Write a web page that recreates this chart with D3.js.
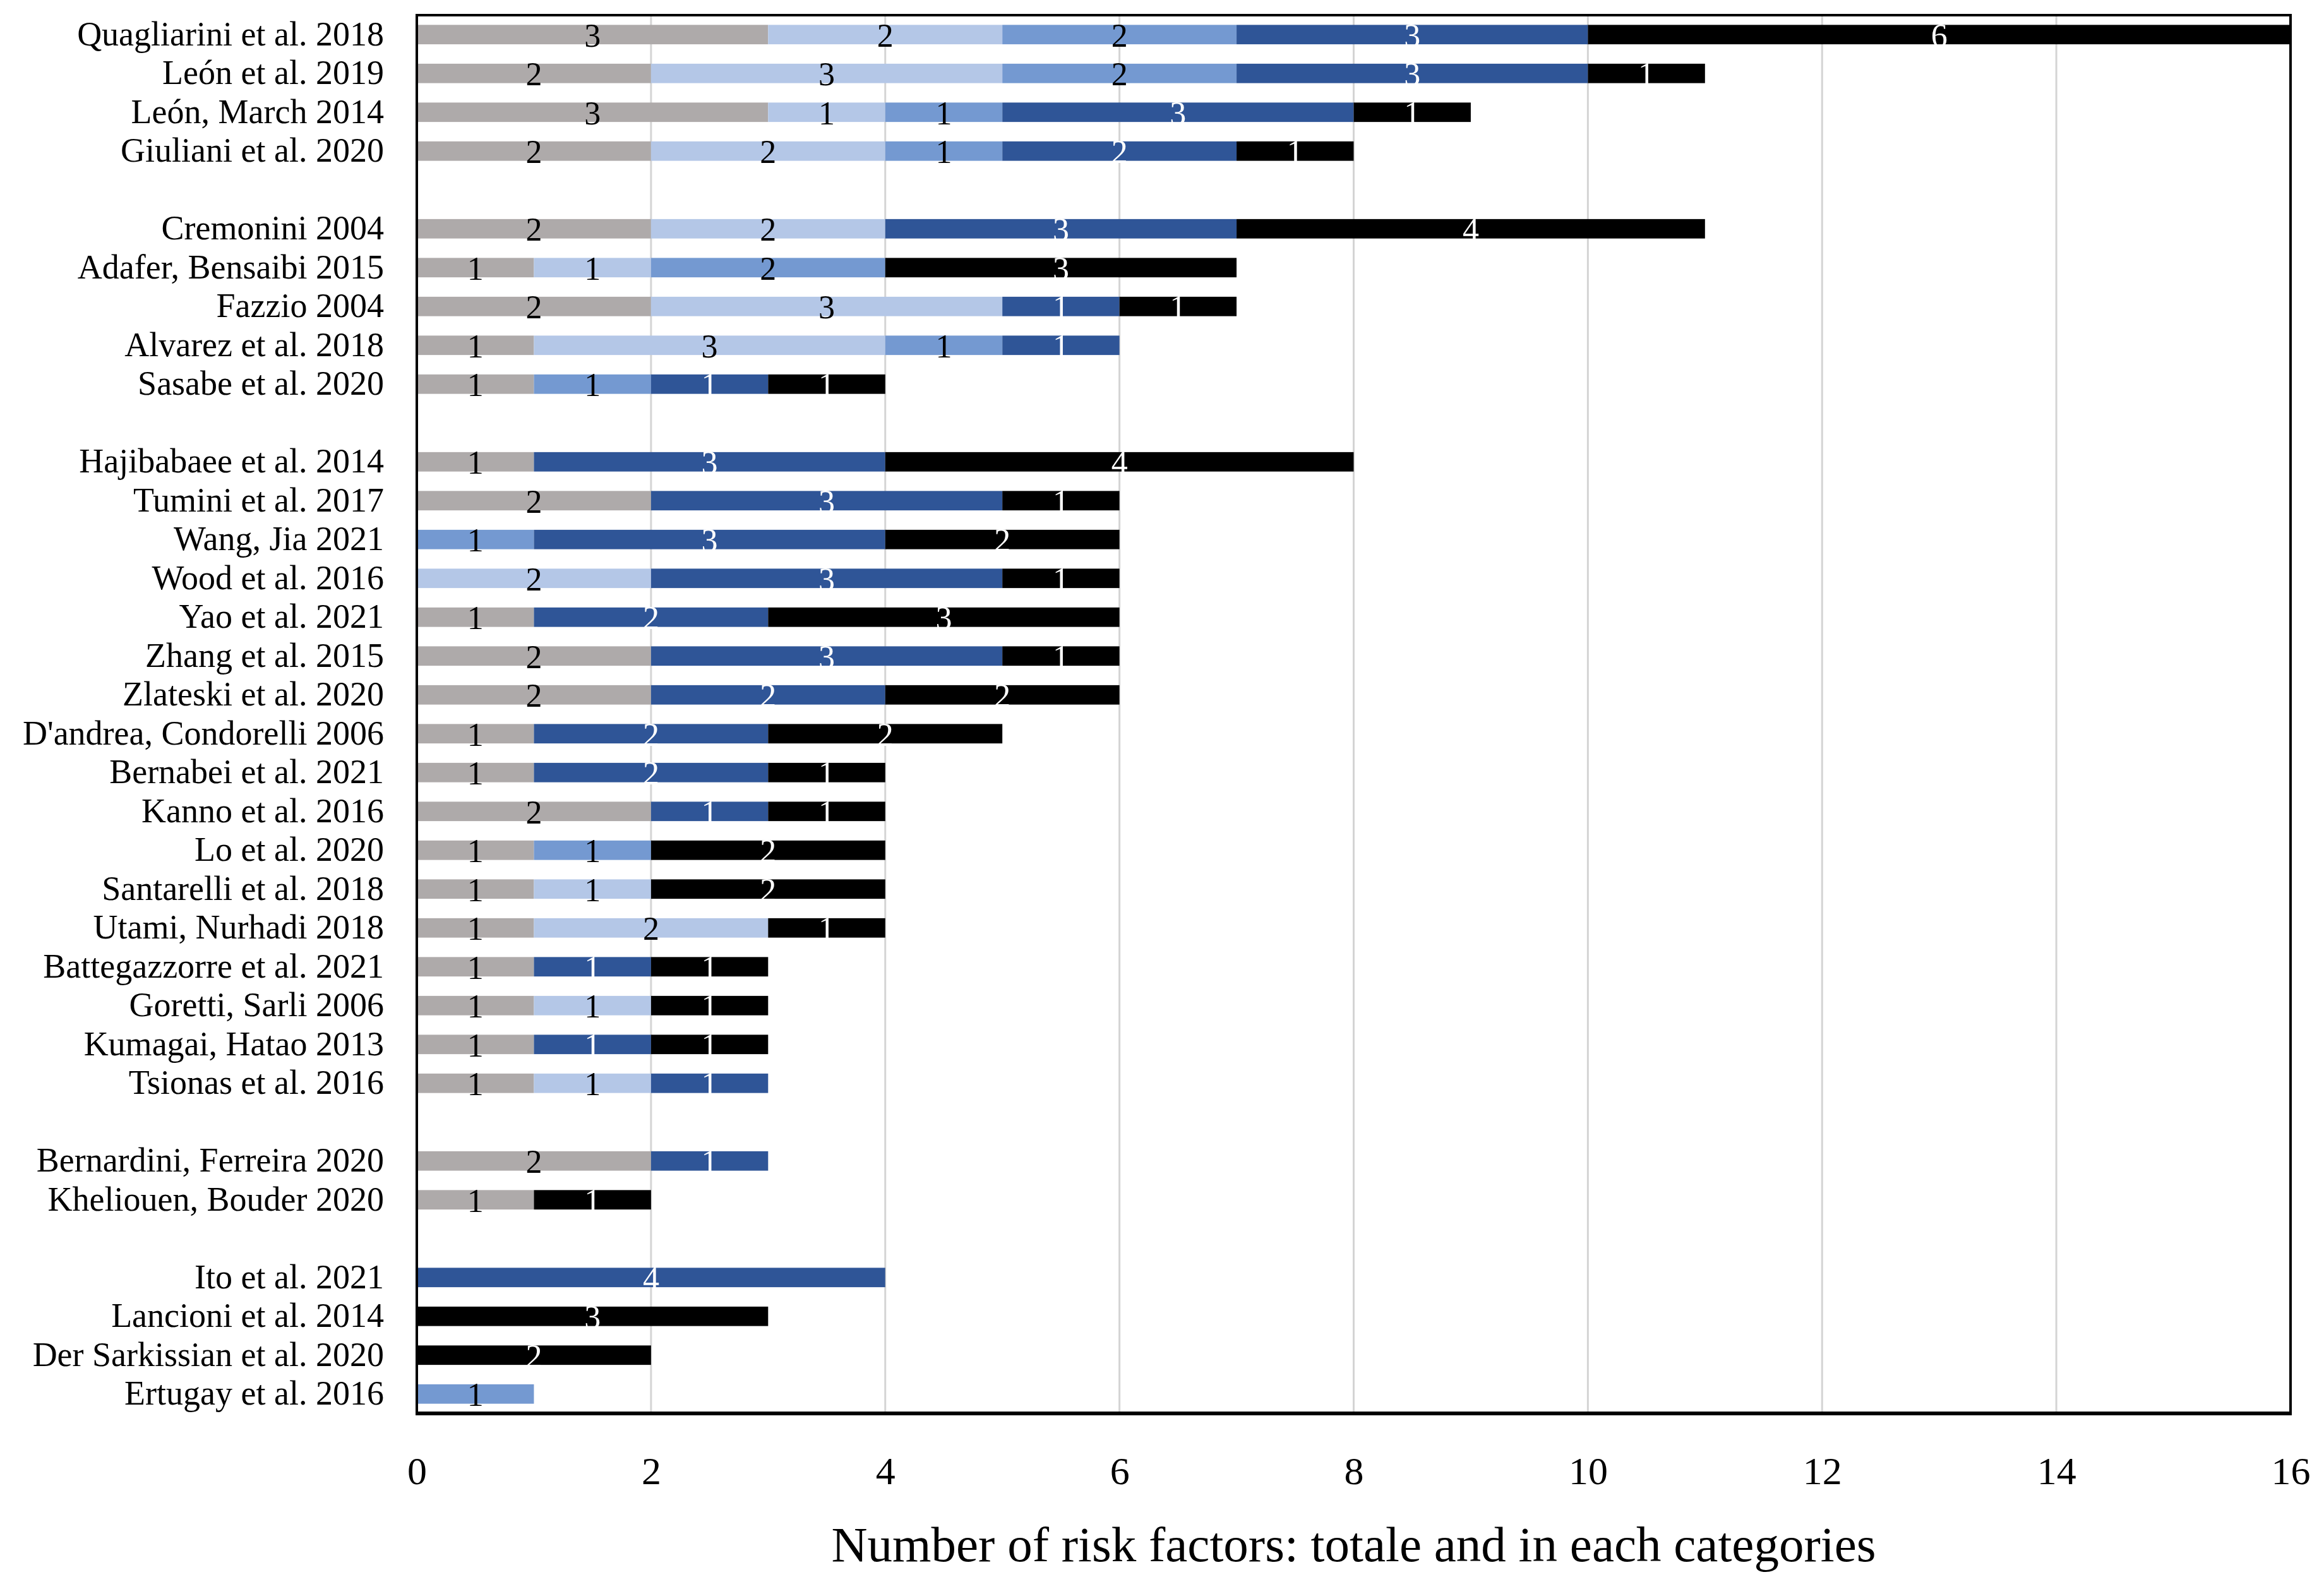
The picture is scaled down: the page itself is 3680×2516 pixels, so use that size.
<!DOCTYPE html>
<html>
<head>
<meta charset="utf-8">
<script src="https://cdn.jsdelivr.net/npm/d3@7"></script>
<style>
  html, body { margin: 0; padding: 0; background: #fff; }
  svg { display: block; }
</style>
</head>
<body>
<script>
// ---- DATA ----
const studies = [
  "Quagliarini et al. 2018", "León et al. 2019", "León, March 2014", "Giuliani et al. 2020",
  "",
  "Cremonini 2004", "Adafer, Bensaibi 2015", "Fazzio 2004", "Alvarez et al. 2018", "Sasabe et al. 2020",
  "",
  "Hajibabaee et al. 2014", "Tumini et al. 2017", "Wang, Jia 2021", "Wood et al. 2016", "Yao et al. 2021",
  "Zhang et al. 2015", "Zlateski et al. 2020", "D'andrea, Condorelli 2006", "Bernabei et al. 2021",
  "Kanno et al. 2016", "Lo et al. 2020", "Santarelli et al. 2018", "Utami, Nurhadi 2018",
  "Battegazzorre et al. 2021", "Goretti, Sarli 2006", "Kumagai, Hatao 2013", "Tsionas et al. 2016",
  "",
  "Bernardini, Ferreira 2020", "Kheliouen, Bouder 2020",
  "",
  "Ito et al. 2021", "Lancioni et al. 2014", "Der Sarkissian et al. 2020", "Ertugay et al. 2016"
];
const seriesNames = ["Category 1", "Category 2", "Category 3", "Category 4", "Category 5"];
const cat1 = [3,2,3,2, 0, 2,1,2,1,1, 0, 1,2,0,0,1,2,2,1,1,2,1,1,1,1,1,1,1, 0, 2,1, 0, 0,0,0,0];
const cat2 = [2,3,1,2, 0, 2,1,3,3,0, 0, 0,0,0,2,0,0,0,0,0,0,0,1,2,0,1,0,1, 0, 0,0, 0, 0,0,0,0];
const cat3 = [2,2,1,1, 0, 0,2,0,1,1, 0, 0,0,1,0,0,0,0,0,0,0,1,0,0,0,0,0,0, 0, 0,0, 0, 0,0,0,1];
const cat4 = [3,3,3,2, 0, 3,0,1,1,1, 0, 3,3,3,3,2,3,2,2,2,1,0,0,0,1,0,1,1, 0, 1,0, 0, 4,0,0,0];
const cat5 = [6,1,1,1, 0, 4,3,1,0,1, 0, 4,1,2,1,3,1,2,2,1,1,2,2,1,1,1,1,0, 0, 0,1, 0, 0,3,2,0];
const xTicks = [0, 2, 4, 6, 8, 10, 12, 14, 16];
const xTitle = "Number of risk factors: totale and in each categories";

const colors = ["#AEAAAA", "#B4C7E7", "#7499D1", "#2F5597", "#000000"];
const labelColors = ["#000", "#000", "#000", "#fff", "#fff"];

// ---- LAYOUT ----
const W = 3680, H = 2516;
const plot = { left: 660, right: 3627, top: 24, bottom: 2238 };
const FONT = "'Liberation Serif', 'DejaVu Serif', serif";

const table = studies.map((s, i) => ({
  idx: i, name: s,
  [seriesNames[0]]: cat1[i], [seriesNames[1]]: cat2[i], [seriesNames[2]]: cat3[i],
  [seriesNames[3]]: cat4[i], [seriesNames[4]]: cat5[i]
}));

const stacked = d3.stack().keys(seriesNames)(table);

const x = d3.scaleLinear().domain([0, 16]).range([plot.left, plot.right]);
const y = d3.scaleBand().domain(d3.range(studies.length))
  .range([plot.top, plot.bottom]).paddingInner(0.5).paddingOuter(0.25);

const svg = d3.select("body").append("svg")
  .attr("width", W).attr("height", H)
  .style("font-family", FONT);

svg.append("rect").attr("width", W).attr("height", H).attr("fill", "#fff");

// gridlines
svg.append("g").selectAll("line")
  .data(xTicks.filter(t => t > 0 && t < 16))
  .join("line")
  .attr("x1", d => x(d)).attr("x2", d => x(d))
  .attr("y1", plot.top).attr("y2", plot.bottom)
  .attr("stroke", "#D4D4D4").attr("stroke-width", 3);

// bars
const groups = svg.append("g").selectAll("g")
  .data(stacked).join("g")
  .attr("fill", (d, i) => colors[i]);

groups.selectAll("rect")
  .data(d => d.filter(s => s[1] - s[0] > 0))
  .join("rect")
  .attr("x", d => x(d[0]))
  .attr("width", d => x(d[1]) - x(d[0]))
  .attr("y", d => y(d.data.idx))
  .attr("height", y.bandwidth());

// value labels
stacked.forEach((ser, si) => {
  svg.append("g").selectAll("text")
    .data(ser.filter(s => s[1] - s[0] > 0))
    .join("text")
    .attr("x", d => x((d[0] + d[1]) / 2))
    .attr("y", d => y(d.data.idx) + y.bandwidth() / 2 + 19)
    .attr("text-anchor", "middle")
    .attr("font-size", 52)
    .attr("fill", labelColors[si])
    .text(d => d[1] - d[0]);
});

// category labels
svg.append("g").selectAll("text")
  .data(table.filter(d => d.name))
  .join("text")
  .attr("x", plot.left - 52)
  .attr("y", d => y(d.idx) + y.bandwidth() / 2 + 17)
  .attr("text-anchor", "end")
  .attr("font-size", 54)
  .attr("fill", "#000")
  .text(d => d.name);

// frame
svg.append("rect")
  .attr("x", plot.left).attr("y", plot.top)
  .attr("width", plot.right - plot.left).attr("height", plot.bottom - plot.top)
  .attr("fill", "none").attr("stroke", "#000").attr("stroke-width", 4);
svg.append("line")
  .attr("x1", plot.left - 2).attr("x2", plot.right + 2)
  .attr("y1", plot.bottom).attr("y2", plot.bottom)
  .attr("stroke", "#000").attr("stroke-width", 6);

// x axis tick labels
const xAxis = d3.axisBottom(x).tickValues(xTicks).tickSize(0).tickPadding(0);
const gx = svg.append("g").attr("transform", `translate(0,${plot.bottom})`).call(xAxis);
gx.select(".domain").remove();
gx.selectAll("text")
  .attr("y", 0).attr("dy", null)
  .attr("transform", "translate(0,112)")
  .style("font-family", FONT).style("font-size", "62px").attr("fill", "#000");

// axis title
svg.append("text")
  .attr("x", (plot.left + plot.right) / 2)
  .attr("y", 2472)
  .attr("text-anchor", "middle")
  .attr("font-size", 79)
  .attr("fill", "#000")
  .text(xTitle);
</script>
</body>
</html>
